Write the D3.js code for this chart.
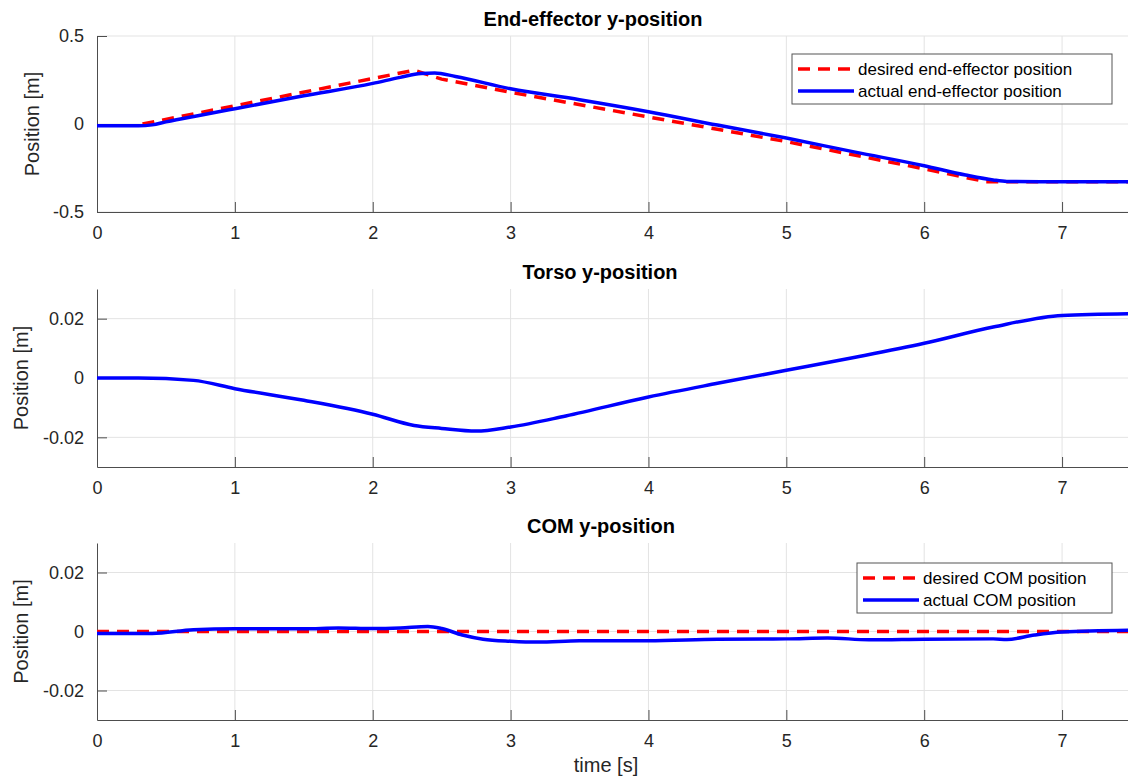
<!DOCTYPE html>
<html lang="en">
<head>
    <meta charset="UTF-8">
    <title>Robot y-position</title>
    <style>
        body { margin: 0; background: #fff; }
        text { font-family: 'Liberation Sans', Arial, sans-serif; fill: #262626; }
        .tick text { font-size: 18px; }
        .axis-label { font-size: 20px; }
        .plot-title { font-size: 20px; font-weight: bold; fill: #000; }
        .legend-text { font-size: 17px; fill: #000; }
    </style>
</head>
<body>

    <svg width="1128" height="778"></svg>

    <script src="https://d3js.org/d3.v7.min.js"></script>

    <script>

        // Shared time ticks (seconds)
        const timeTicks = [0, 1, 2, 3, 4, 5, 6, 7];

        // End-effector y-position
        const eeDesiredTime = [0.33, 2.3, 2.5, 3, 4, 5, 6, 6.45, 7.5];
        const eeDesired     = [0, 0.305, 0.255, 0.18, 0.04, -0.1, -0.255, -0.328, -0.328];

        const eeActualTime = [0, 0.3, 0.4, 0.5, 0.75, 1, 1.5, 2, 2.2, 2.35, 2.45, 2.6, 3, 3.5, 4, 4.5, 5, 5.5, 6, 6.3, 6.5, 6.6, 7, 7.5];
        const eeActual     = [-0.01, -0.01, -0.005, 0.012, 0.05, 0.087, 0.16, 0.231, 0.265, 0.287, 0.29, 0.27, 0.2, 0.138, 0.07, -0.006, -0.08, -0.16, -0.237, -0.29, -0.318, -0.326, -0.328, -0.328];

        const eeTicks = [-0.5, 0, 0.5];

        // Torso y-position
        const torsoTime   = [0, 0.3, 0.7, 1, 1.5, 2, 2.3, 2.5, 2.75, 3, 3.4, 4, 4.5, 5, 5.5, 6, 6.5, 7, 7.5];
        const torsoActual = [0, 0, -0.0008, -0.0036, -0.0075, -0.0122, -0.016, -0.017, -0.0179, -0.0165, -0.0128, -0.0064, -0.0018, 0.0026, 0.007, 0.0117, 0.0172, 0.0211, 0.0217];

        const torsoTicks = [-0.02, 0, 0.02];

        // COM y-position
        const comDesiredTime = [0, 7.5];
        const comDesired     = [0, 0];

        const comActualTime = [0, 0.4, 0.7, 1, 1.5, 1.75, 2, 2.2, 2.4, 2.5, 2.65, 2.8, 3, 3.2, 3.5, 4, 4.5, 5, 5.3, 5.6, 6, 6.5, 6.6, 6.8, 7, 7.5];
        const comActual     = [-0.0007, -0.0007, 0.0006, 0.0009, 0.0009, 0.0012, 0.001, 0.0012, 0.0017, 0.001, -0.0012, -0.0026, -0.0033, -0.0036, -0.0031, -0.0031, -0.0026, -0.0025, -0.0022, -0.0028, -0.0026, -0.0025, -0.0027, -0.0012, -0.0002, 0.0004];

        const comTicks = [-0.02, 0, 0.02];

        const svg = d3.select('svg');

        const left = 97;
        const xScale = d3.scaleLinear().domain([0, 7.5]).range([0, 1034]);
        const innerWidth = 1034;

        const zip = function (ts, vs) {
            return ts.map(function (t, i) { return { t: t, v: vs[i] }; });
        };

        const drawPanel = function (cfg) {

            const innerHeight = cfg.bottom - cfg.top;

            const yScale = d3.scaleLinear().domain(cfg.domain).range([innerHeight, 0]);

            const group = svg.append('g')
                .attr('transform', 'translate(' + left + ' ' + cfg.top + ')');

            // grid
            group.append('g').selectAll('line')
                .data(timeTicks.slice(1))
                .enter().append('line')
                .attr('x1', function (d) { return xScale(d); })
                .attr('x2', function (d) { return xScale(d); })
                .attr('y1', 0).attr('y2', innerHeight)
                .attr('stroke', '#e3e3e3');

            group.append('g').selectAll('line')
                .data(cfg.ticks)
                .enter().append('line')
                .attr('x1', 0).attr('x2', innerWidth)
                .attr('y1', function (d) { return yScale(d); })
                .attr('y2', function (d) { return yScale(d); })
                .attr('stroke', '#e3e3e3');

            // axes with inward ticks
            const xAxisG = group.append('g')
                .attr('transform', 'translate(0 ' + innerHeight + ')')
                .call(d3.axisBottom(xScale)
                    .tickValues(timeTicks)
                    .tickFormat(d3.format('d'))
                    .tickSizeInner(-10)
                    .tickSizeOuter(0)
                    .tickPadding(14));

            const yAxisG = group.append('g')
                .call(d3.axisLeft(yScale)
                    .tickValues(cfg.ticks)
                    .tickFormat(function (d) { return d === 0 ? '0' : String(d); })
                    .tickSizeInner(-10)
                    .tickSizeOuter(0)
                    .tickPadding(13));

            [xAxisG, yAxisG].forEach(function (g) {
                g.select('.domain').attr('stroke', '#4d4d4d');
                g.selectAll('.tick line').attr('stroke', '#4d4d4d');
                g.selectAll('.tick text').attr('fill', '#262626').attr('font-family', null).attr('font-size', null);
            });
            xAxisG.attr('font-family', null).attr('font-size', null);
            yAxisG.attr('font-family', null).attr('font-size', null);

            // title
            group.append('text')
                .attr('class', 'plot-title')
                .attr('x', cfg.titleX - left)
                .attr('y', -10)
                .attr('text-anchor', 'middle')
                .text(cfg.title);

            // y label
            group.append('text')
                .attr('class', 'axis-label')
                .attr('transform', 'translate(' + (cfg.labelX - left) + ' ' + (innerHeight / 2) + ') rotate(-90)')
                .attr('text-anchor', 'middle')
                .text('Position [m]');

            const line = d3.line()
                .x(function (d) { return xScale(d.t); })
                .y(function (d) { return yScale(d.v); });

            if (cfg.desired) {
                group.append('path')
                    .datum(cfg.desired)
                    .attr('fill', 'none')
                    .attr('stroke', '#ff0000')
                    .attr('stroke-width', 3.5)
                    .attr('stroke-dasharray', '12,8')
                    .attr('d', line);
            }

            group.append('path')
                .datum(cfg.actual)
                .attr('fill', 'none')
                .attr('stroke', '#0000ff')
                .attr('stroke-width', 3.5)
                .attr('stroke-linejoin', 'round')
                .attr('d', line.curve(d3.curveMonotoneX));

            if (cfg.legend) {
                const lg = cfg.legend;
                const box = svg.append('g').attr('transform', 'translate(' + lg.x + ' ' + lg.y + ')');
                box.append('rect')
                    .attr('width', lg.w).attr('height', 50)
                    .attr('fill', '#fff')
                    .attr('stroke', '#555');
                const rows = [
                    { label: lg.labels[0], color: '#ff0000', dash: '12,8', y: 15 },
                    { label: lg.labels[1], color: '#0000ff', dash: null, y: 37 }
                ];
                rows.forEach(function (r) {
                    box.append('line')
                        .attr('x1', 6).attr('x2', 62)
                        .attr('y1', r.y).attr('y2', r.y)
                        .attr('stroke', r.color)
                        .attr('stroke-width', 3.5)
                        .attr('stroke-dasharray', r.dash);
                    box.append('text')
                        .attr('class', 'legend-text')
                        .attr('x', 66)
                        .attr('y', r.y)
                        .attr('dy', '0.35em')
                        .text(r.label);
                });
            }
        };

        drawPanel({
            title: 'End-effector y-position', titleX: 593, labelX: 39,
            top: 36, bottom: 212, domain: [-0.5, 0.5], ticks: eeTicks,
            desired: zip(eeDesiredTime, eeDesired),
            actual: zip(eeActualTime, eeActual),
            legend: { x: 792, y: 54, w: 320, labels: ['desired end-effector position', 'actual end-effector position'] }
        });

        drawPanel({
            title: 'Torso y-position', titleX: 600, labelX: 28,
            top: 289, bottom: 467, domain: [-0.03, 0.03], ticks: torsoTicks,
            desired: null,
            actual: zip(torsoTime, torsoActual),
            legend: null
        });

        drawPanel({
            title: 'COM y-position', titleX: 601, labelX: 28,
            top: 543, bottom: 720, domain: [-0.03, 0.03], ticks: comTicks,
            desired: zip(comDesiredTime, comDesired),
            actual: zip(comActualTime, comActual),
            legend: { x: 857, y: 563, w: 255, labels: ['desired COM position', 'actual COM position'] }
        });

        svg.append('text')
            .attr('class', 'axis-label')
            .attr('x', 606)
            .attr('y', 772)
            .attr('text-anchor', 'middle')
            .text('time [s]');

    </script>

</body>
</html>
